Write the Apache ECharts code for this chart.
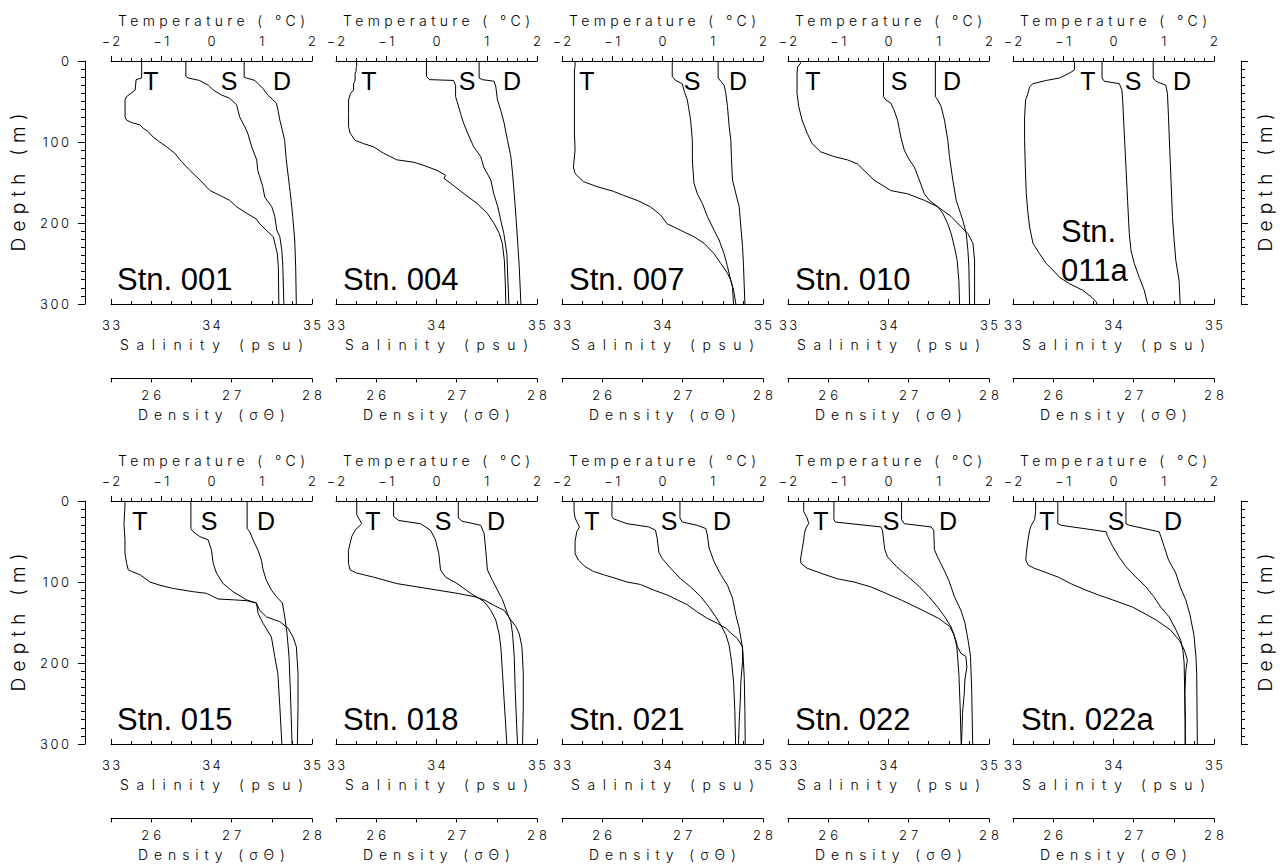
<!DOCTYPE html>
<html>
<head>
<meta charset="utf-8">
<title>CTD profiles</title>
<script src="https://cdn.jsdelivr.net/npm/echarts@6/dist/echarts.min.js"></script>
<style>
html, body { margin: 0; background: #fff; }
#chart { width: 1285px; height: 865px; }
</style>
</head>
<body>
<div id="chart"></div>
<script>
// station names, panel order left->right, top->bottom
var stations = ['Stn. 001', 'Stn. 004', 'Stn. 007', 'Stn. 010', 'Stn. 011a',
                'Stn. 015', 'Stn. 018', 'Stn. 021', 'Stn. 022', 'Stn. 022a'];

// axis ranges / ticks
var tempRange = [-2, 2], tempStep = 1;
var salRange = [33, 35], salStep = 1;
var densRange = [25.5, 28], densStep = 0.5;
var depthRange = [0, 300], depthStep = 100;

// profiles: [value, depth(m)]
var t001 = [[-1.39,0],[-1.39,21],[-1.50,23],[-1.52,36],[-1.69,44],[-1.72,48],[-1.72,69],[-1.69,73],[-1.59,76],[-1.42,79],[-1.36,83],[-1.26,87],[-1.16,94],[-1.03,100],[-0.89,106],[-0.73,114],[-0.60,124],[-0.43,135],[-0.23,147],[-0.03,160],[0.17,166],[0.36,172],[0.50,180],[0.70,188],[0.89,195],[0.96,201],[1.09,209],[1.23,217],[1.28,230],[1.31,238],[1.33,254],[1.34,300]];
var s001 = [[33.745,0],[33.745,19],[33.77,21],[33.88,24],[33.97,30],[34.02,36],[34.10,42],[34.18,46],[34.25,54],[34.28,69],[34.33,81],[34.36,89],[34.40,106],[34.45,122],[34.46,135],[34.51,155],[34.53,168],[34.60,180],[34.63,192],[34.65,209],[34.68,217],[34.70,234],[34.71,254],[34.72,300]];
var d001 = [[27.156,0],[27.156,20],[27.185,21],[27.288,24],[27.33,28],[27.39,34],[27.45,42],[27.557,52],[27.578,61],[27.60,73],[27.63,85],[27.66,98],[27.68,122],[27.72,155],[27.74,172],[27.76,192],[27.785,221],[27.797,254],[27.805,300]];

var t004 = [[-1.59,0],[-1.59,7],[-1.60,9],[-1.60,13],[-1.62,15],[-1.62,24],[-1.65,28],[-1.65,36],[-1.71,40],[-1.75,48],[-1.75,65],[-1.75,81],[-1.72,89],[-1.62,98],[-1.45,102],[-1.25,106],[-1.05,114],[-0.79,122],[-0.45,125],[-0.25,129],[0.01,135],[0.18,141],[0.15,145],[0.28,151],[0.55,164],[0.81,176],[1.01,188],[1.15,201],[1.25,213],[1.31,225],[1.35,246],[1.37,275],[1.38,300]];
var s004 = [[33.90,0],[33.90,19],[33.93,23],[34.17,24],[34.19,30],[34.19,44],[34.21,52],[34.24,65],[34.27,77],[34.31,89],[34.37,106],[34.44,118],[34.47,131],[34.54,147],[34.57,164],[34.61,180],[34.64,197],[34.67,213],[34.70,238],[34.72,300]];
var d004 = [[27.28,0],[27.28,21],[27.32,23],[27.467,25],[27.488,32],[27.508,48],[27.55,61],[27.592,77],[27.633,98],[27.675,118],[27.696,139],[27.717,164],[27.738,192],[27.758,221],[27.779,254],[27.80,300]];

var t007 = [[-1.74,0],[-1.74,7],[-1.753,11],[-1.753,89],[-1.74,110],[-1.773,131],[-1.74,139],[-1.573,149],[-1.307,155],[-0.973,161],[-0.773,166],[-0.507,172],[-0.24,180],[-0.04,190],[0.093,201],[0.36,209],[0.627,217],[0.827,225],[1.027,238],[1.16,250],[1.293,262],[1.36,271],[1.393,279],[1.413,300]];
var s007 = [[34.097,0],[34.097,19],[34.13,24],[34.197,28],[34.213,36],[34.247,48],[34.28,73],[34.297,98],[34.297,122],[34.313,151],[34.347,164],[34.397,176],[34.447,192],[34.513,209],[34.563,221],[34.613,238],[34.647,254],[34.68,271],[34.707,283],[34.73,300]];
var d007 = [[27.442,0],[27.442,21],[27.475,25],[27.517,30],[27.538,40],[27.558,56],[27.579,81],[27.60,98],[27.608,122],[27.621,147],[27.663,164],[27.704,180],[27.725,205],[27.746,230],[27.758,254],[27.767,279],[27.775,300]];

var t010 = [[-1.753,0],[-1.753,3],[-1.807,7],[-1.82,15],[-1.82,40],[-1.787,56],[-1.72,73],[-1.62,89],[-1.52,102],[-1.353,112],[-1.087,118],[-0.82,122],[-0.62,127],[-0.487,135],[-0.287,147],[0.047,160],[0.38,164],[0.713,172],[0.98,180],[1.247,192],[1.447,205],[1.58,213],[1.68,225],[1.713,246],[1.713,300]];
var s010 = [[33.95,0],[33.95,44],[33.973,48],[34.023,52],[34.057,61],[34.09,73],[34.123,94],[34.157,110],[34.207,122],[34.257,131],[34.307,147],[34.357,164],[34.407,172],[34.49,180],[34.54,188],[34.59,201],[34.623,213],[34.657,230],[34.683,246],[34.70,271],[34.707,300]];
var d010 = [[27.333,0],[27.333,44],[27.363,48],[27.404,56],[27.446,73],[27.488,98],[27.508,118],[27.55,147],[27.592,172],[27.646,188],[27.675,197],[27.717,213],[27.738,234],[27.75,254],[27.758,300]];

var t011a = [[-0.777,0],[-0.777,11],[-0.876,15],[-1.074,21],[-1.339,24],[-1.603,28],[-1.669,32],[-1.702,40],[-1.749,48],[-1.769,69],[-1.769,98],[-1.755,131],[-1.736,164],[-1.702,188],[-1.669,205],[-1.603,225],[-1.471,238],[-1.339,250],[-1.207,258],[-1.074,267],[-0.876,275],[-0.612,283],[-0.446,291],[-0.347,297],[-0.327,300]];
var s011a = [[33.886,0],[33.886,21],[33.909,25],[34.058,28],[34.084,36],[34.091,48],[34.107,89],[34.124,131],[34.14,172],[34.157,213],[34.174,234],[34.207,250],[34.256,267],[34.306,283],[34.339,300]];
var d011a = [[27.244,0],[27.244,21],[27.277,25],[27.401,30],[27.421,40],[27.434,69],[27.45,110],[27.467,151],[27.483,192],[27.504,221],[27.525,246],[27.566,271],[27.579,300]];

var t015 = [[-1.722,0],[-1.722,7],[-1.742,28],[-1.722,48],[-1.722,65],[-1.689,77],[-1.656,85],[-1.589,87],[-1.424,91],[-1.225,100],[-1.026,104],[-0.762,108],[-0.364,112],[-0.099,114],[0.033,118],[0.132,121],[0.43,122],[0.695,123],[0.894,126],[0.96,135],[1.093,143],[1.358,149],[1.523,157],[1.623,168],[1.689,180],[1.722,213],[1.722,254],[1.709,300]];
var s015 = [[33.795,0],[33.795,34],[33.818,38],[33.884,44],[33.967,48],[34.0,61],[34.017,77],[34.05,89],[34.116,102],[34.215,112],[34.348,122],[34.447,126],[34.464,139],[34.513,151],[34.596,168],[34.629,192],[34.66,213],[34.68,254],[34.70,300]];
var d015 = [[27.193,0],[27.193,34],[27.226,38],[27.267,48],[27.329,61],[27.371,73],[27.392,85],[27.433,98],[27.495,110],[27.557,118],[27.632,126],[27.661,143],[27.69,164],[27.714,192],[27.731,234],[27.752,300]];

var t018 = [[-1.587,0],[-1.587,17],[-1.553,21],[-1.487,28],[-1.62,36],[-1.687,44],[-1.753,61],[-1.753,77],[-1.72,85],[-1.587,89],[-1.253,94],[-0.787,102],[-0.387,106],[0.013,110],[0.413,114],[0.747,118],[0.947,122],[1.147,129],[1.347,135],[1.48,147],[1.58,155],[1.647,164],[1.70,180],[1.727,213],[1.727,254],[1.713,300]];
var s018 = [[33.573,0],[33.573,19],[33.623,24],[33.84,28],[33.94,36],[33.99,48],[34.023,65],[34.04,85],[34.09,94],[34.207,102],[34.34,114],[34.473,124],[34.54,135],[34.59,147],[34.623,164],[34.64,180],[34.657,213],[34.673,246],[34.70,300]];
var d018 = [[27.021,0],[27.021,21],[27.071,25],[27.30,30],[27.342,40],[27.363,61],[27.383,85],[27.446,98],[27.508,110],[27.571,122],[27.633,139],[27.675,149],[27.696,164],[27.717,192],[27.729,234],[27.746,275],[27.758,300]];

var t021 = [[-1.76,0],[-1.76,13],[-1.74,21],[-1.653,32],[-1.707,38],[-1.74,50],[-1.74,65],[-1.673,73],[-1.54,81],[-1.373,87],[-1.173,91],[-0.907,96],[-0.707,100],[-0.44,103],[-0.173,110],[0.093,116],[0.293,122],[0.493,128],[0.693,137],[0.893,145],[1.093,151],[1.26,157],[1.36,163],[1.493,170],[1.593,180],[1.593,198],[1.56,223],[1.547,248],[1.527,272],[1.513,300]];
var s021 = [[33.497,0],[33.497,19],[33.513,22],[33.647,28],[33.863,32],[33.93,36],[33.947,46],[33.963,63],[33.997,71],[34.08,83],[34.18,96],[34.28,106],[34.38,118],[34.463,131],[34.53,143],[34.58,153],[34.63,165],[34.663,178],[34.687,198],[34.707,223],[34.72,260],[34.727,300]];
var d021 = [[26.967,0],[26.967,21],[26.996,26],[27.183,30],[27.288,34],[27.308,42],[27.329,58],[27.392,75],[27.475,91],[27.558,104],[27.621,120],[27.663,141],[27.704,157],[27.733,174],[27.75,186],[27.767,219],[27.775,260],[27.779,300]];

var t022 = [[-1.687,0],[-1.687,13],[-1.653,17],[-1.62,21],[-1.587,28],[-1.633,32],[-1.673,40],[-1.687,48],[-1.72,60],[-1.753,73],[-1.74,77],[-1.62,83],[-1.353,89],[-1.02,96],[-0.687,100],[-0.353,106],[-0.05,114],[0.28,123],[0.647,134],[1.0,145],[1.22,155],[1.30,165],[1.34,172],[1.373,180],[1.44,188],[1.54,192],[1.56,205],[1.52,221],[1.507,238],[1.473,262],[1.453,300]];
var s022 = [[33.457,0],[33.457,23],[33.473,26],[33.923,32],[33.94,36],[33.963,60],[33.99,69],[34.08,81],[34.20,94],[34.31,106],[34.40,118],[34.49,131],[34.56,143],[34.62,155],[34.65,164],[34.68,180],[34.70,213],[34.713,254],[34.723,300]];
var d022 = [[26.9125,0],[26.9125,23],[26.946,28],[27.279,32],[27.3125,36],[27.321,60],[27.36,69],[27.40,77],[27.44,85],[27.50,98],[27.57,118],[27.65,135],[27.70,150],[27.74,172],[27.77,192],[27.785,234],[27.797,300]];

var t022a = [[-1.55,0],[-1.55,13],[-1.57,23],[-1.636,30],[-1.669,36],[-1.702,48],[-1.736,65],[-1.745,73],[-1.70,79],[-1.58,83],[-1.40,87],[-1.10,94],[-0.85,102],[-0.55,110],[-0.30,116],[-0.02,122],[0.38,131],[0.65,140],[0.85,147],[1.13,159],[1.31,172],[1.41,184],[1.47,196],[1.44,209],[1.42,238],[1.43,270],[1.426,300]];
var s022a = [[33.446,0],[33.446,28],[33.479,30],[33.926,38],[33.942,44],[33.992,56],[34.06,70],[34.124,81],[34.223,94],[34.322,106],[34.40,118],[34.47,131],[34.554,143],[34.625,160],[34.669,172],[34.69,184],[34.703,200],[34.71,250],[34.715,300]];
var d022a = [[26.905,0],[26.905,28],[26.946,30],[27.318,38],[27.339,44],[27.38,56],[27.435,73],[27.525,89],[27.58,106],[27.649,122],[27.70,140],[27.75,165],[27.775,192],[27.785,213],[27.793,300]];

var profiles = [
  [t001, s001, d001], [t004, s004, d004], [t007, s007, d007], [t010, s010, d010], [t011a, s011a, d011a],
  [t015, s015, d015], [t018, s018, d018], [t021, s021, d021], [t022, s022, d022], [t022a, s022a, d022a]
];

// layout (pixels)
var colLeft = [111, 336, 562, 788, 1013];
var rowTop = [61, 501];
var plotW = 201, plotH = 243;
var lblOffsets = [[40,118,171],[33,131,176],[25,130,176],[25,111,164],[75,120,169],
                  [29,98,155],[37,107,160],[30,107,160],[33,103,160],[34,103,160]];
var stnOffsetX = [6, 7, 7, 7, 48, 6, 7, 7, 7, 8];

var thin = 'Inter';
var sans = 'Liberation Sans';
var black = '#000';

function line() { return { color: black, width: 1 }; }
function tickFont(extra) {
  var o = { color: black, fontFamily: thin, fontWeight: 300, fontSize: 13 };
  for (var k in extra) o[k] = extra[k];
  return o;
}
function nameFont(size) { return { color: black, fontFamily: thin, fontWeight: 300, fontSize: size }; }

function valueAxis(gi, o) {
  var a = {
    gridIndex: gi, type: 'value', silent: true,
    axisLine: { show: true, onZero: false, lineStyle: line() },
    splitLine: { show: false },
    minorSplitLine: { show: false },
    nameLocation: 'middle', nameMoveOverlap: false
  };
  for (var k in o) a[k] = o[k];
  return a;
}

var grids = [], xAxes = [], yAxes = [], series = [], graphics = [];

stations.forEach(function (name, i) {
  var c = i % 5, r = Math.floor(i / 5);
  var left = colLeft[c], top = rowTop[r];
  grids.push({ left: left, top: top, width: plotW, height: plotH, containLabel: false, outerBoundsMode: 'none' });

  // temperature (top)
  xAxes.push(valueAxis(i, {
    position: 'top', min: tempRange[0], max: tempRange[1], interval: tempStep,
    axisTick: { show: true, inside: false, length: 5, lineStyle: line() },
    minorTick: { show: true, splitNumber: 5, length: 3, lineStyle: line() },
    axisLabel: tickFont({ margin: 14, alignMinLabel: 'center', alignMaxLabel: 'center',
      formatter: function (v) { return String(v).replace('-', '\u2212'); } }),
    name: 'Temperature ( \u00b0C)', nameGap: 34, nameTextStyle: nameFont(14)
  }));
  // salinity (bottom)
  xAxes.push(valueAxis(i, {
    position: 'bottom', min: salRange[0], max: salRange[1], interval: salStep,
    axisTick: { show: true, inside: true, length: 5, lineStyle: line() },
    minorTick: { show: true, splitNumber: 5, length: 3, lineStyle: line() },
    axisLabel: tickFont({ margin: 14, alignMinLabel: 'center', alignMaxLabel: 'center' }),
    name: 'Salinity (psu)', nameGap: 33, nameTextStyle: nameFont(14)
  }));
  // density (separate axis below)
  xAxes.push(valueAxis(i, {
    position: 'bottom', offset: 74.5, min: densRange[0], max: densRange[1], interval: densStep,
    axisTick: { show: true, inside: false, length: 4, lineStyle: line() },
    minorTick: { show: false },
    axisLabel: tickFont({ margin: 10, alignMinLabel: 'center', alignMaxLabel: 'center',
      formatter: function (v) { return Number.isInteger(v) ? String(v) : ''; } }),
    name: 'Density (\u03c3\u0398)', nameGap: 29, nameTextStyle: nameFont(14)
  }));

  // depth (shown on the outer panels only)
  var showLeft = c === 0, showRight = c === 4;
  yAxes.push(valueAxis(i, {
    show: showLeft || showRight,
    position: showRight ? 'right' : 'left',
    offset: showRight ? 27 : 26,
    inverse: true, min: depthRange[0], max: depthRange[1], interval: depthStep,
    axisTick: { show: true, inside: false, length: 7, lineStyle: line() },
    minorTick: { show: true, splitNumber: 10, length: 4, lineStyle: line() },
    axisLabel: tickFont({ show: showLeft, margin: 16, align: 'right',
      verticalAlignMinLabel: 'middle', verticalAlignMaxLabel: 'middle' }),
    name: 'Depth (m)', nameRotate: 90, nameGap: showRight ? 15 : 57, nameTextStyle: nameFont(19)
  }));

  profiles[i].forEach(function (data, k) {
    series.push({
      type: 'line', name: name + ' ' + 'TSD'[k],
      xAxisIndex: 3 * i + k, yAxisIndex: i,
      data: data, symbol: 'none', silent: true,
      lineStyle: { color: black, width: 1 }
    });
  });

  // T / S / D markers
  ['T', 'S', 'D'].forEach(function (t, k) {
    graphics.push({
      type: 'text', x: left + lblOffsets[i][k], y: top + 19.5 + r * 0.5, silent: true,
      style: { text: t, fill: black, fontFamily: sans, fontSize: 25,
               textAlign: 'center', textVerticalAlign: 'middle' }
    });
  });

  // station label
  var lines = name === 'Stn. 011a' ? name.split(' ') : [name];
  var ys = lines.length === 2 ? [170.5, 209.5] : [218.5];
  lines.forEach(function (txt, k) {
    graphics.push({
      type: 'text', x: left + stnOffsetX[i], y: top + ys[k], silent: true,
      style: { text: txt, fill: black, fontFamily: sans, fontSize: 31,
               textAlign: 'left', textVerticalAlign: 'middle' }
    });
  });
});

var chart = echarts.init(document.getElementById('chart'), null, { renderer: 'svg' });
chart.setOption({
  backgroundColor: '#fff',
  animation: false,
  grid: grids,
  xAxis: xAxes,
  yAxis: yAxes,
  series: series,
  graphic: graphics
});

// the original axis lettering is widely spaced: stretch titles to their measured width
var titleWidth = { 'Temperature ( \u00b0C)': 187, 'Salinity (psu)': 183, 'Density (\u03c3\u0398)': 147, 'Depth (m)': 138 };
function applySpacing() {
  document.querySelectorAll('#chart svg text').forEach(function (el) {
    var s = el.textContent;
    var ls;
    if (titleWidth[s] !== undefined) {
      el.removeAttribute('letter-spacing');
      el.removeAttribute('dx');
      ls = (titleWidth[s] - el.getComputedTextLength()) / (s.length - 1);
    } else if (/^2[678]$/.test(s)) ls = 4;
    else if (/^[\u2212-]?\d+$/.test(s)) ls = 2.5;
    if (ls === undefined) return;
    el.setAttribute('letter-spacing', ls);
    var anchor = el.getAttribute('text-anchor');
    if (anchor === 'middle') el.setAttribute('dx', ls / 2);
    else if (anchor === 'end') el.setAttribute('dx', ls);
  });
}
chart.on('finished', applySpacing);
applySpacing();
setTimeout(applySpacing, 50);
</script>
</body>
</html>
